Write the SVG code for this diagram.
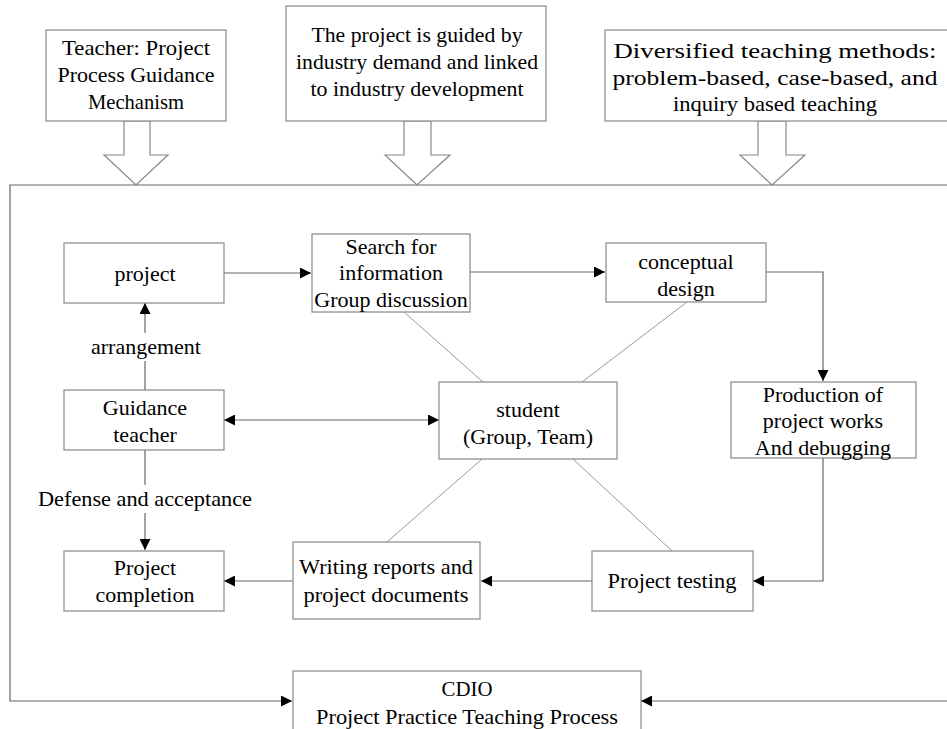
<svg xmlns="http://www.w3.org/2000/svg" width="947" height="729" viewBox="0 0 947 729">
<style>
.box{fill:#fff;stroke:#888;stroke-width:1.2}
.t{font-family:"Liberation Serif","Times New Roman",serif;font-size:22px;fill:#000;text-anchor:middle}
.ln{fill:none;stroke:#666;stroke-width:1.2}
.thin{fill:none;stroke:#999;stroke-width:1}
.hollow{fill:#fff;stroke:#888;stroke-width:1.2}
</style>
<defs>
<marker id="ah" viewBox="0 0 11 11" refX="11" refY="5.5" markerWidth="11" markerHeight="11" markerUnits="userSpaceOnUse" orient="auto-start-reverse">
<path d="M0,0 L11,5.5 L0,11 Z" fill="#000"/>
</marker>
</defs>
<rect width="947" height="729" fill="#fff"/>

<g id="connectors">
<polyline class="ln" points="947,185 10,185 10,701 292,701" marker-end="url(#ah)"/>
<line class="ln" x1="947" y1="701" x2="641" y2="701" marker-end="url(#ah)"/>
<line class="ln" x1="224" y1="273" x2="311" y2="273" marker-end="url(#ah)"/>
<line class="ln" x1="470" y1="272" x2="605" y2="272" marker-end="url(#ah)"/>
<polyline class="ln" points="766,272 823,272 823,381" marker-end="url(#ah)"/>
<line class="ln" x1="145" y1="390" x2="145" y2="303" marker-end="url(#ah)"/>
<line class="ln" x1="224" y1="420" x2="439" y2="420" marker-start="url(#ah)" marker-end="url(#ah)"/>
<line class="ln" x1="145" y1="450" x2="145" y2="550" marker-end="url(#ah)"/>
<polyline class="ln" points="823,458 823,581 753,581" marker-end="url(#ah)"/>
<line class="ln" x1="592" y1="581" x2="481" y2="581" marker-end="url(#ah)"/>
<line class="ln" x1="293" y1="581" x2="224" y2="581" marker-end="url(#ah)"/>
<line class="thin" x1="404" y1="312" x2="483" y2="382"/>
<line class="thin" x1="687" y1="302" x2="582" y2="382"/>
<line class="thin" x1="482" y1="459" x2="387" y2="542"/>
<line class="thin" x1="573" y1="459" x2="672" y2="551"/>
<rect x="88" y="333" width="114" height="28" fill="#fff"/>
<text class="t" x="146" y="354">arrangement</text>
<rect x="35" y="485" width="220" height="28" fill="#fff"/>
<text class="t" x="145" y="506" textLength="214" lengthAdjust="spacingAndGlyphs">Defense and acceptance</text>
</g>

<g id="arrow1"><path class="hollow" d="M124,121 L150,121 L150,155 L168,155 L136,185 L104,155 L124,155 Z"/></g>
<g id="arrow2"><path class="hollow" d="M404,121 L431,121 L431,155 L450,155 L417,185 L385,155 L404,155 Z"/></g>
<g id="arrow3"><path class="hollow" d="M758,121 L786,121 L786,155 L805,155 L772,185 L740,155 L758,155 Z"/></g>

<g id="top1"><rect class="box" x="46" y="30" width="180" height="91"/>
<text class="t" x="136" y="55" textLength="148" lengthAdjust="spacingAndGlyphs">Teacher: Project</text>
<text class="t" x="136" y="82" textLength="157" lengthAdjust="spacingAndGlyphs">Process Guidance</text>
<text class="t" x="136" y="109" textLength="96" lengthAdjust="spacingAndGlyphs">Mechanism</text></g>

<g id="top2"><rect class="box" x="286" y="6" width="260" height="115"/>
<text class="t" x="417" y="42" textLength="211" lengthAdjust="spacingAndGlyphs">The project is guided by</text>
<text class="t" x="417" y="69" textLength="242" lengthAdjust="spacingAndGlyphs">industry demand and linked</text>
<text class="t" x="417" y="96" textLength="213" lengthAdjust="spacingAndGlyphs">to industry development</text></g>

<g id="top3"><rect class="box" x="605" y="30" width="345" height="91"/>
<text class="t" x="775" y="58" textLength="323" lengthAdjust="spacingAndGlyphs">Diversified teaching methods:</text>
<text class="t" x="775" y="85" textLength="325" lengthAdjust="spacingAndGlyphs">problem-based, case-based, and</text>
<text class="t" x="775" y="111" textLength="204" lengthAdjust="spacingAndGlyphs">inquiry based teaching</text></g>

<g id="project"><rect class="box" x="64" y="243" width="160" height="60"/>
<text class="t" x="145" y="281">project</text></g>

<g id="search"><rect class="box" x="312" y="234" width="158" height="78"/>
<text class="t" x="391" y="254">Search for</text>
<text class="t" x="391" y="280">information</text>
<text class="t" x="391" y="307">Group discussion</text></g>

<g id="conceptual"><rect class="box" x="606" y="243" width="160" height="59"/>
<text class="t" x="686" y="269">conceptual</text>
<text class="t" x="686" y="296">design</text></g>

<g id="guidance"><rect class="box" x="64" y="390" width="160" height="60"/>
<text class="t" x="145" y="415">Guidance</text>
<text class="t" x="145" y="442">teacher</text></g>

<g id="student"><rect class="box" x="439" y="382" width="178" height="77"/>
<text class="t" x="528" y="417">student</text>
<text class="t" x="528" y="444">(Group, Team)</text></g>

<g id="production"><rect class="box" x="731" y="382" width="185" height="76"/>
<text class="t" x="823" y="402">Production of</text>
<text class="t" x="823" y="428">project works</text>
<text class="t" x="823" y="455">And debugging</text></g>

<g id="completion"><rect class="box" x="64" y="551" width="160" height="60"/>
<text class="t" x="145" y="575">Project</text>
<text class="t" x="145" y="602">completion</text></g>

<g id="writing"><rect class="box" x="293" y="542" width="187" height="77"/>
<text class="t" x="386" y="574" textLength="174" lengthAdjust="spacingAndGlyphs">Writing reports and</text>
<text class="t" x="386" y="602" textLength="165" lengthAdjust="spacingAndGlyphs">project documents</text></g>

<g id="testing"><rect class="box" x="592" y="551" width="161" height="60"/>
<text class="t" x="672" y="588" textLength="129" lengthAdjust="spacingAndGlyphs">Project testing</text></g>

<g id="cdio"><rect class="box" x="293" y="671" width="348" height="70"/>
<text class="t" x="467" y="696" textLength="51" lengthAdjust="spacingAndGlyphs">CDIO</text>
<text class="t" x="467" y="724" textLength="302" lengthAdjust="spacingAndGlyphs">Project Practice Teaching Process</text></g>
</svg>
